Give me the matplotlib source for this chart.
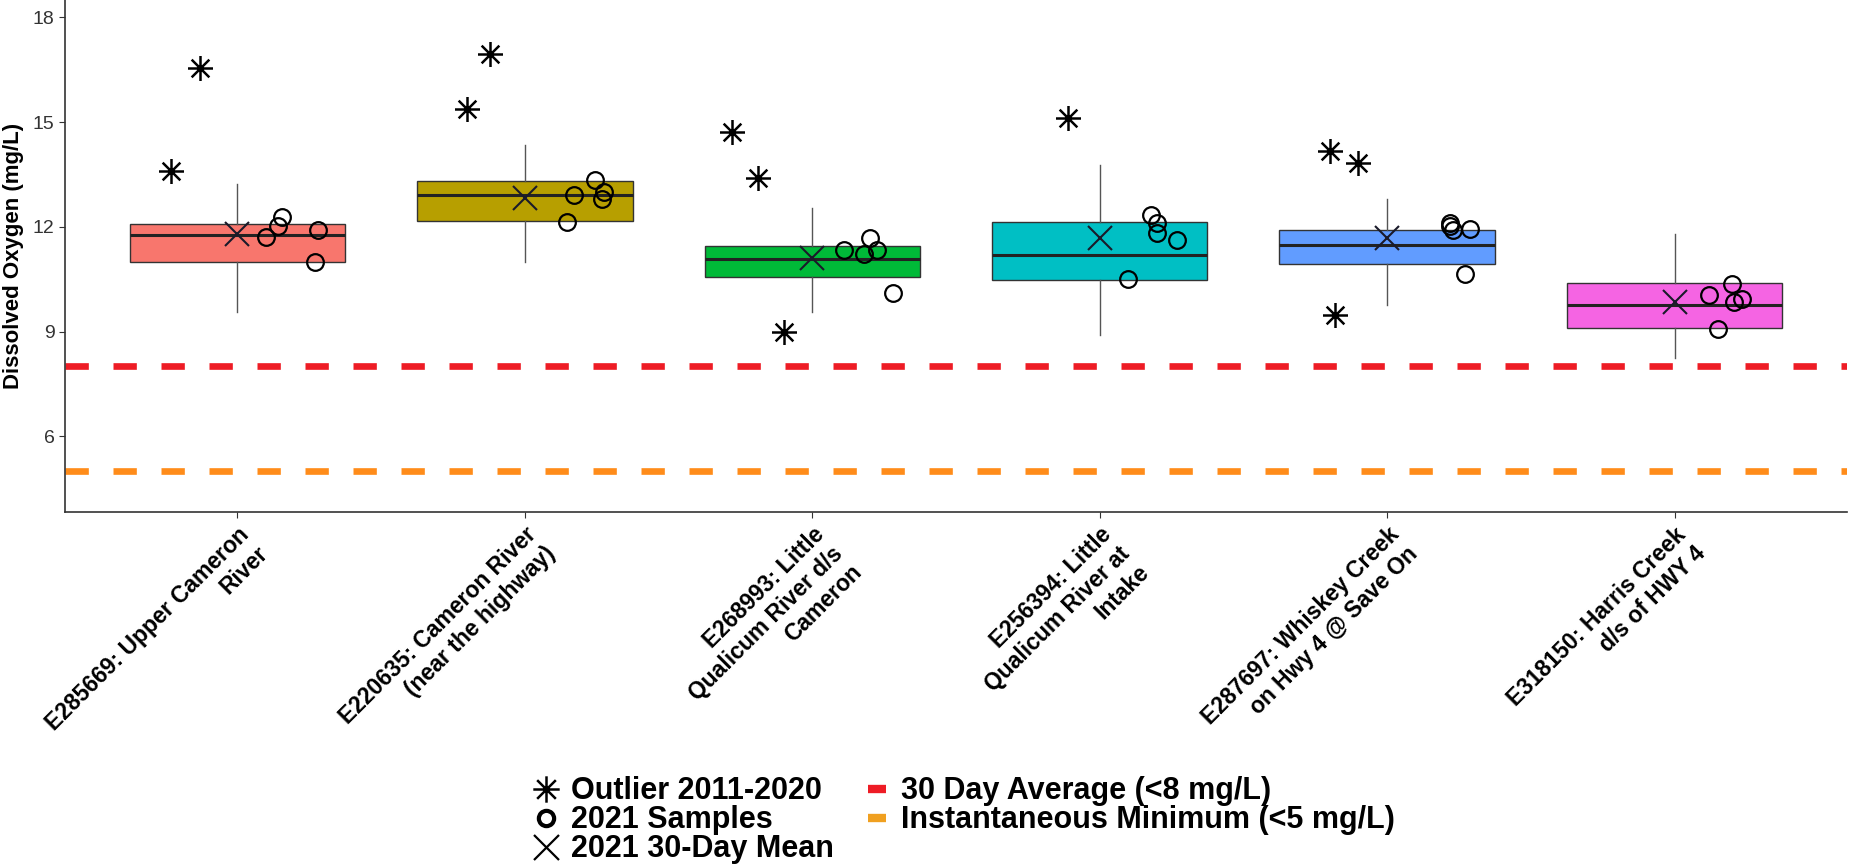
import numpy as np
import matplotlib
matplotlib.use('Agg')
import matplotlib.pyplot as plt
from matplotlib.path import Path
from matplotlib.lines import Line2D

plt.rcParams['font.family'] = ['Liberation Sans', 'DejaVu Sans']

# stations (wrapped like the original axis labels)
stations = [
    'E285669: Upper Cameron\nRiver',
    'E220635: Cameron River\n(near the highway)',
    'E268993: Little\nQualicum River d/s\nCameron',
    'E256394: Little\nQualicum River at\nIntake',
    'E287697: Whiskey Creek\non Hwy 4 @ Save On',
    'E318150: Harris Creek\nd/s of HWY 4',
]
box_colors = ['#F8766D', '#B79F00', '#00BA38', '#00BFC4', '#619CFF', '#F564E3']

# 2011-2020 box summary (mg/L)
q1 = [11.00, 12.17, 10.55, 10.48, 10.95, 9.10]
med = [11.77, 12.92, 11.07, 11.19, 11.48, 9.75]
q3 = [12.07, 13.30, 11.45, 12.14, 11.90, 10.38]
whis_lo = [9.56, 10.98, 9.56, 8.89, 9.76, 8.23]
whis_hi = [13.23, 14.35, 12.54, 13.78, 12.81, 11.79]

# 2011-2020 outliers and their horizontal jitter
outliers = [[13.60, 16.55], [15.39, 16.96], [14.73, 13.40, 9.00], [15.13],
            [14.16, 13.83, 9.48], []]
outlier_jit = [[-0.23, -0.13], [-0.20, -0.12], [-0.28, -0.19, -0.10], [-0.11],
               [-0.20, -0.10, -0.18], []]

# 2021 samples and their horizontal jitter
samples = [
    [11.71, 12.02, 12.28, 11.90, 11.00],
    [12.14, 12.92, 13.33, 12.81, 12.99],
    [11.33, 11.22, 11.69, 11.33, 10.11],
    [12.33, 12.12, 11.81, 11.62, 10.50],
    [12.12, 12.02, 11.90, 11.95, 10.65],
    [10.05, 10.36, 9.84, 9.92, 9.06],
]
sample_jit = [
    [0.10, 0.14, 0.155, 0.28, 0.27],
    [0.145, 0.17, 0.245, 0.27, 0.275],
    [0.11, 0.18, 0.20, 0.225, 0.28],
    [0.18, 0.20, 0.20, 0.27, 0.10],
    [0.22, 0.22, 0.23, 0.29, 0.27],
    [0.12, 0.20, 0.207, 0.236, 0.15],
]
mean_30d = [11.79, 12.83, 11.12, 11.67, 11.69, 9.84]

# guidelines
avg_30d_limit = 8
inst_min_limit = 5

# 8-armed asterisk marker
verts, codes = [], []
for a in np.deg2rad([0, 45, 90, 135]):
    verts += [(-np.cos(a), -np.sin(a)), (np.cos(a), np.sin(a))]
    codes += [Path.MOVETO, Path.LINETO]
asterisk = Path(verts, codes)

fig = plt.figure(figsize=(18.58, 8.67), dpi=100)
ax = fig.add_axes([65 / 1858, 1 - 512 / 867, (1847 - 65) / 1858, 512 / 867])

pos = np.arange(1, len(stations) + 1)
stats = []
for i in range(len(stations)):
    stats.append(dict(med=med[i], q1=q1[i], q3=q3[i], whislo=whis_lo[i],
                      whishi=whis_hi[i], fliers=[]))
bp = ax.bxp(stats, positions=pos, widths=0.75, patch_artist=True,
            showfliers=False, showcaps=False,
            boxprops=dict(edgecolor='#333333', linewidth=1.0),
            medianprops=dict(color='#222222', linewidth=2.2),
            whiskerprops=dict(color='#555555', linewidth=1.0))
for patch, c in zip(bp['boxes'], box_colors):
    patch.set_facecolor(c)

ax.axhline(avg_30d_limit, color='#EE1C25', lw=4.8, dashes=(3.5, 3.7), zorder=1)
ax.axhline(inst_min_limit, color='#FF8C1A', lw=4.8, dashes=(3.5, 3.7), zorder=1)

for i in range(len(stations)):
    if outliers[i]:
        ax.plot(pos[i] + np.array(outlier_jit[i]), outliers[i], ls='none',
                marker=asterisk, ms=18, mec='black', mfc='none', mew=1.8, zorder=4)
    ax.plot(pos[i] + np.array(sample_jit[i]), samples[i], ls='none', marker='o',
            ms=12, mec='black', mfc='none', mew=1.6, zorder=4)
ax.plot(pos, mean_30d, ls='none', marker='x', ms=17, mec='#1a1a2a', mew=1.5, zorder=5)

ax.set_xlim(0.4, 6.6)
ax.set_ylim(3.83, 18.5)
ax.set_yticks([6, 9, 12, 15, 18])
ax.tick_params(axis='y', labelsize=14, labelcolor='#333333', color='#333333', length=4)
ax.set_xticks(pos)
ax.set_xticklabels(stations, rotation=45, ha='right', va='top', rotation_mode='anchor',
                   fontsize=16.5, fontweight='bold', multialignment='right')
ax.tick_params(axis='x', color='#333333', length=4, pad=4)
ax.set_ylabel('Dissolved Oxygen (mg/L)', fontsize=16, fontweight='bold', labelpad=6)
for s in ['top', 'right']:
    ax.spines[s].set_visible(False)
for s in ['left', 'bottom']:
    ax.spines[s].set_color('#333333')
    ax.spines[s].set_linewidth(1.2)

handles = [
    Line2D([], [], ls='none', marker=asterisk, ms=19, mec='black', mfc='none', mew=1.8),
    Line2D([], [], ls='none', marker='o', ms=11, mec='black', mfc='none', mew=3),
    Line2D([], [], ls='none', marker='x', ms=18, mec='black', mew=1.6),
    Line2D([], [], ls='none', marker='_', ms=13, mec='#EE1C25', mew=6),
    Line2D([], [], ls='none', marker='_', ms=13, mec='#F0A020', mew=6),
]
labels = ['Outlier 2011-2020', '2021 Samples', '2021 30-Day Mean',
          '30 Day Average (<8 mg/L)', 'Instantaneous Minimum (<5 mg/L)']
fig.legend(handles, labels, ncol=2, loc='upper left',
           bbox_to_anchor=(519 / 1858, 1 - 761 / 867), frameon=False,
           prop=dict(size=22, weight='bold'), handlelength=0.8,
           handletextpad=0.4, labelspacing=-0.03, columnspacing=1.0, borderpad=0)

fig.savefig('out.png', dpi=100)
